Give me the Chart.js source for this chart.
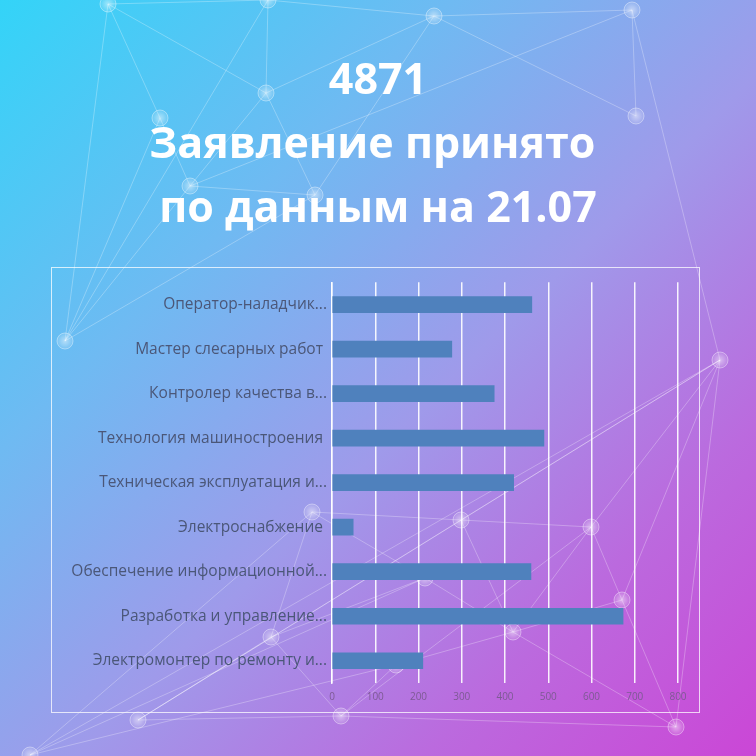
<!DOCTYPE html>
<html lang="ru">
<head>
<meta charset="utf-8">
<title>Заявление принято</title>
<script src="https://cdn.jsdelivr.net/npm/chart.js@4"></script>
<style>
    html, body {
        margin: 0;
        padding: 0;
    }
    body {
        width: 756px;
        height: 756px;
        position: relative;
        overflow: hidden;
        background: linear-gradient(135deg, #33d4f8 0%, #6fbaf2 30%, #9f9aea 55%, #bb6ade 78%, #cb46d6 100%);
        font-family: "Open Sans", sans-serif;
    }
    #net {
        position: absolute;
        left: 0;
        top: 0;
    }
    .title {
        position: absolute;
        left: 0;
        top: 46px;
        width: 756px;
        text-align: center;
        color: #fff;
        font-weight: bold;
        font-size: 43px;
        line-height: 64px;
    }
    .chart-box {
        position: absolute;
        left: 51px;
        top: 267px;
        width: 647px;
        height: 444px;
        border: 1px solid rgba(255, 255, 255, 0.75);
    }
</style>
</head>
<body>
<canvas id="net" width="756" height="756"></canvas>
<div class="title">4871<br>Заявление принято&nbsp;<br>по данным на 21.07</div>
<div class="chart-box">
    <canvas id="bars" width="647" height="444"></canvas>
</div>
<script>
// Данные диаграммы
const categories = [
    'Оператор-наладчик...',
    'Мастер слесарных работ ',
    'Контролер качества в...',
    'Технология машиностроения ',
    'Техническая эксплуатация и...',
    'Электроснабжение ',
    'Обеспечение информационной...',
    'Разработка и управление...',
    'Электромонтер по ремонту и...'
];
const applications = [462, 277, 375, 490, 420, 49, 460, 673, 210];
const xTicks = [0, 100, 200, 300, 400, 500, 600, 700, 800];

// Фоновая "сеть" из точек и линий (только декор)
function drawNetwork() {
    const ctx = document.getElementById('net').getContext('2d');
    const nodes = [
        [108, 4], [268, 0], [434, 16], [632, 10], [160, 118], [266, 93],
        [190, 186], [315, 195], [636, 116], [65, 341], [720, 360], [312, 512],
        [461, 520], [591, 527], [425, 578], [622, 600], [513, 632], [271, 637],
        [396, 665], [138, 720], [341, 716], [676, 727], [30, 755]
    ];
    const edges = [
        [0, 4], [0, 5], [0, 1], [1, 5], [1, 2], [2, 5], [2, 3], [3, 8], [2, 8],
        [4, 6], [5, 6], [5, 7], [6, 7], [7, 2], [4, 9], [6, 9], [9, 1], [9, 0],
        [10, 13], [10, 15], [10, 21], [10, 12], [11, 12], [11, 17],
        [12, 13], [12, 16], [13, 15], [13, 16], [14, 16], [14, 17], [15, 16],
        [16, 18], [17, 19], [18, 20], [19, 20], [20, 21], [15, 21], [11, 22],
        [14, 22], [18, 22], [12, 19], [13, 20], [16, 21], [11, 14], [17, 20],
        [3, 10], [7, 9], [6, 3], [10, 19], [10, 22]
    ];
    ctx.strokeStyle = 'rgba(255, 255, 255, 0.28)';
    ctx.lineWidth = 1;
    edges.forEach(([a, b]) => {
        ctx.beginPath();
        ctx.moveTo(nodes[a][0], nodes[a][1]);
        ctx.lineTo(nodes[b][0], nodes[b][1]);
        ctx.stroke();
    });
    nodes.forEach(([x, y]) => {
        const g = ctx.createRadialGradient(x, y, 0, x, y, 8);
        g.addColorStop(0, 'rgba(255, 255, 255, 0.5)');
        g.addColorStop(1, 'rgba(255, 255, 255, 0.1)');
        ctx.beginPath();
        ctx.arc(x, y, 8, 0, Math.PI * 2);
        ctx.fillStyle = g;
        ctx.fill();
        ctx.strokeStyle = 'rgba(255, 255, 255, 0.4)';
        ctx.stroke();
    });
}

function initChart() {
    const ctx = document.getElementById('bars');
    new Chart(ctx, {
        type: 'bar',
        data: {
            labels: categories,
            datasets: [{
                data: applications,
                backgroundColor: '#4f81bd',
                barThickness: 16
            }]
        },
        options: {
            indexAxis: 'y',
            responsive: false,
            animation: false,
            layout: {
                padding: { top: 14, right: 21, bottom: 0, left: 0 }
            },
            plugins: {
                legend: { display: false },
                tooltip: { enabled: false }
            },
            scales: {
                x: {
                    min: 0,
                    max: 800,
                    afterBuildTicks: scale => {
                        scale.ticks = xTicks.map(v => ({ value: v }));
                    },
                    afterFit: scale => {
                        scale.height = 29;
                    },
                    grid: {
                        color: 'rgba(255, 255, 255, 0.9)',
                        lineWidth: 1.5,
                        drawTicks: false
                    },
                    border: { display: false },
                    ticks: {
                        padding: 8,
                        color: '#7d5a94',
                        font: { family: 'Open Sans', size: 10 }
                    }
                },
                y: {
                    afterFit: scale => {
                        scale.width = 280;
                    },
                    grid: { display: false, drawTicks: false },
                    border: {
                        display: true,
                        color: 'rgba(255, 255, 255, 0.9)',
                        width: 1.5
                    },
                    ticks: {
                        padding: 5,
                        color: '#4b5778',
                        font: { family: 'Open Sans', size: 15.5 }
                    }
                }
            }
        }
    });
}

drawNetwork();
initChart();
</script>
</body>
</html>
